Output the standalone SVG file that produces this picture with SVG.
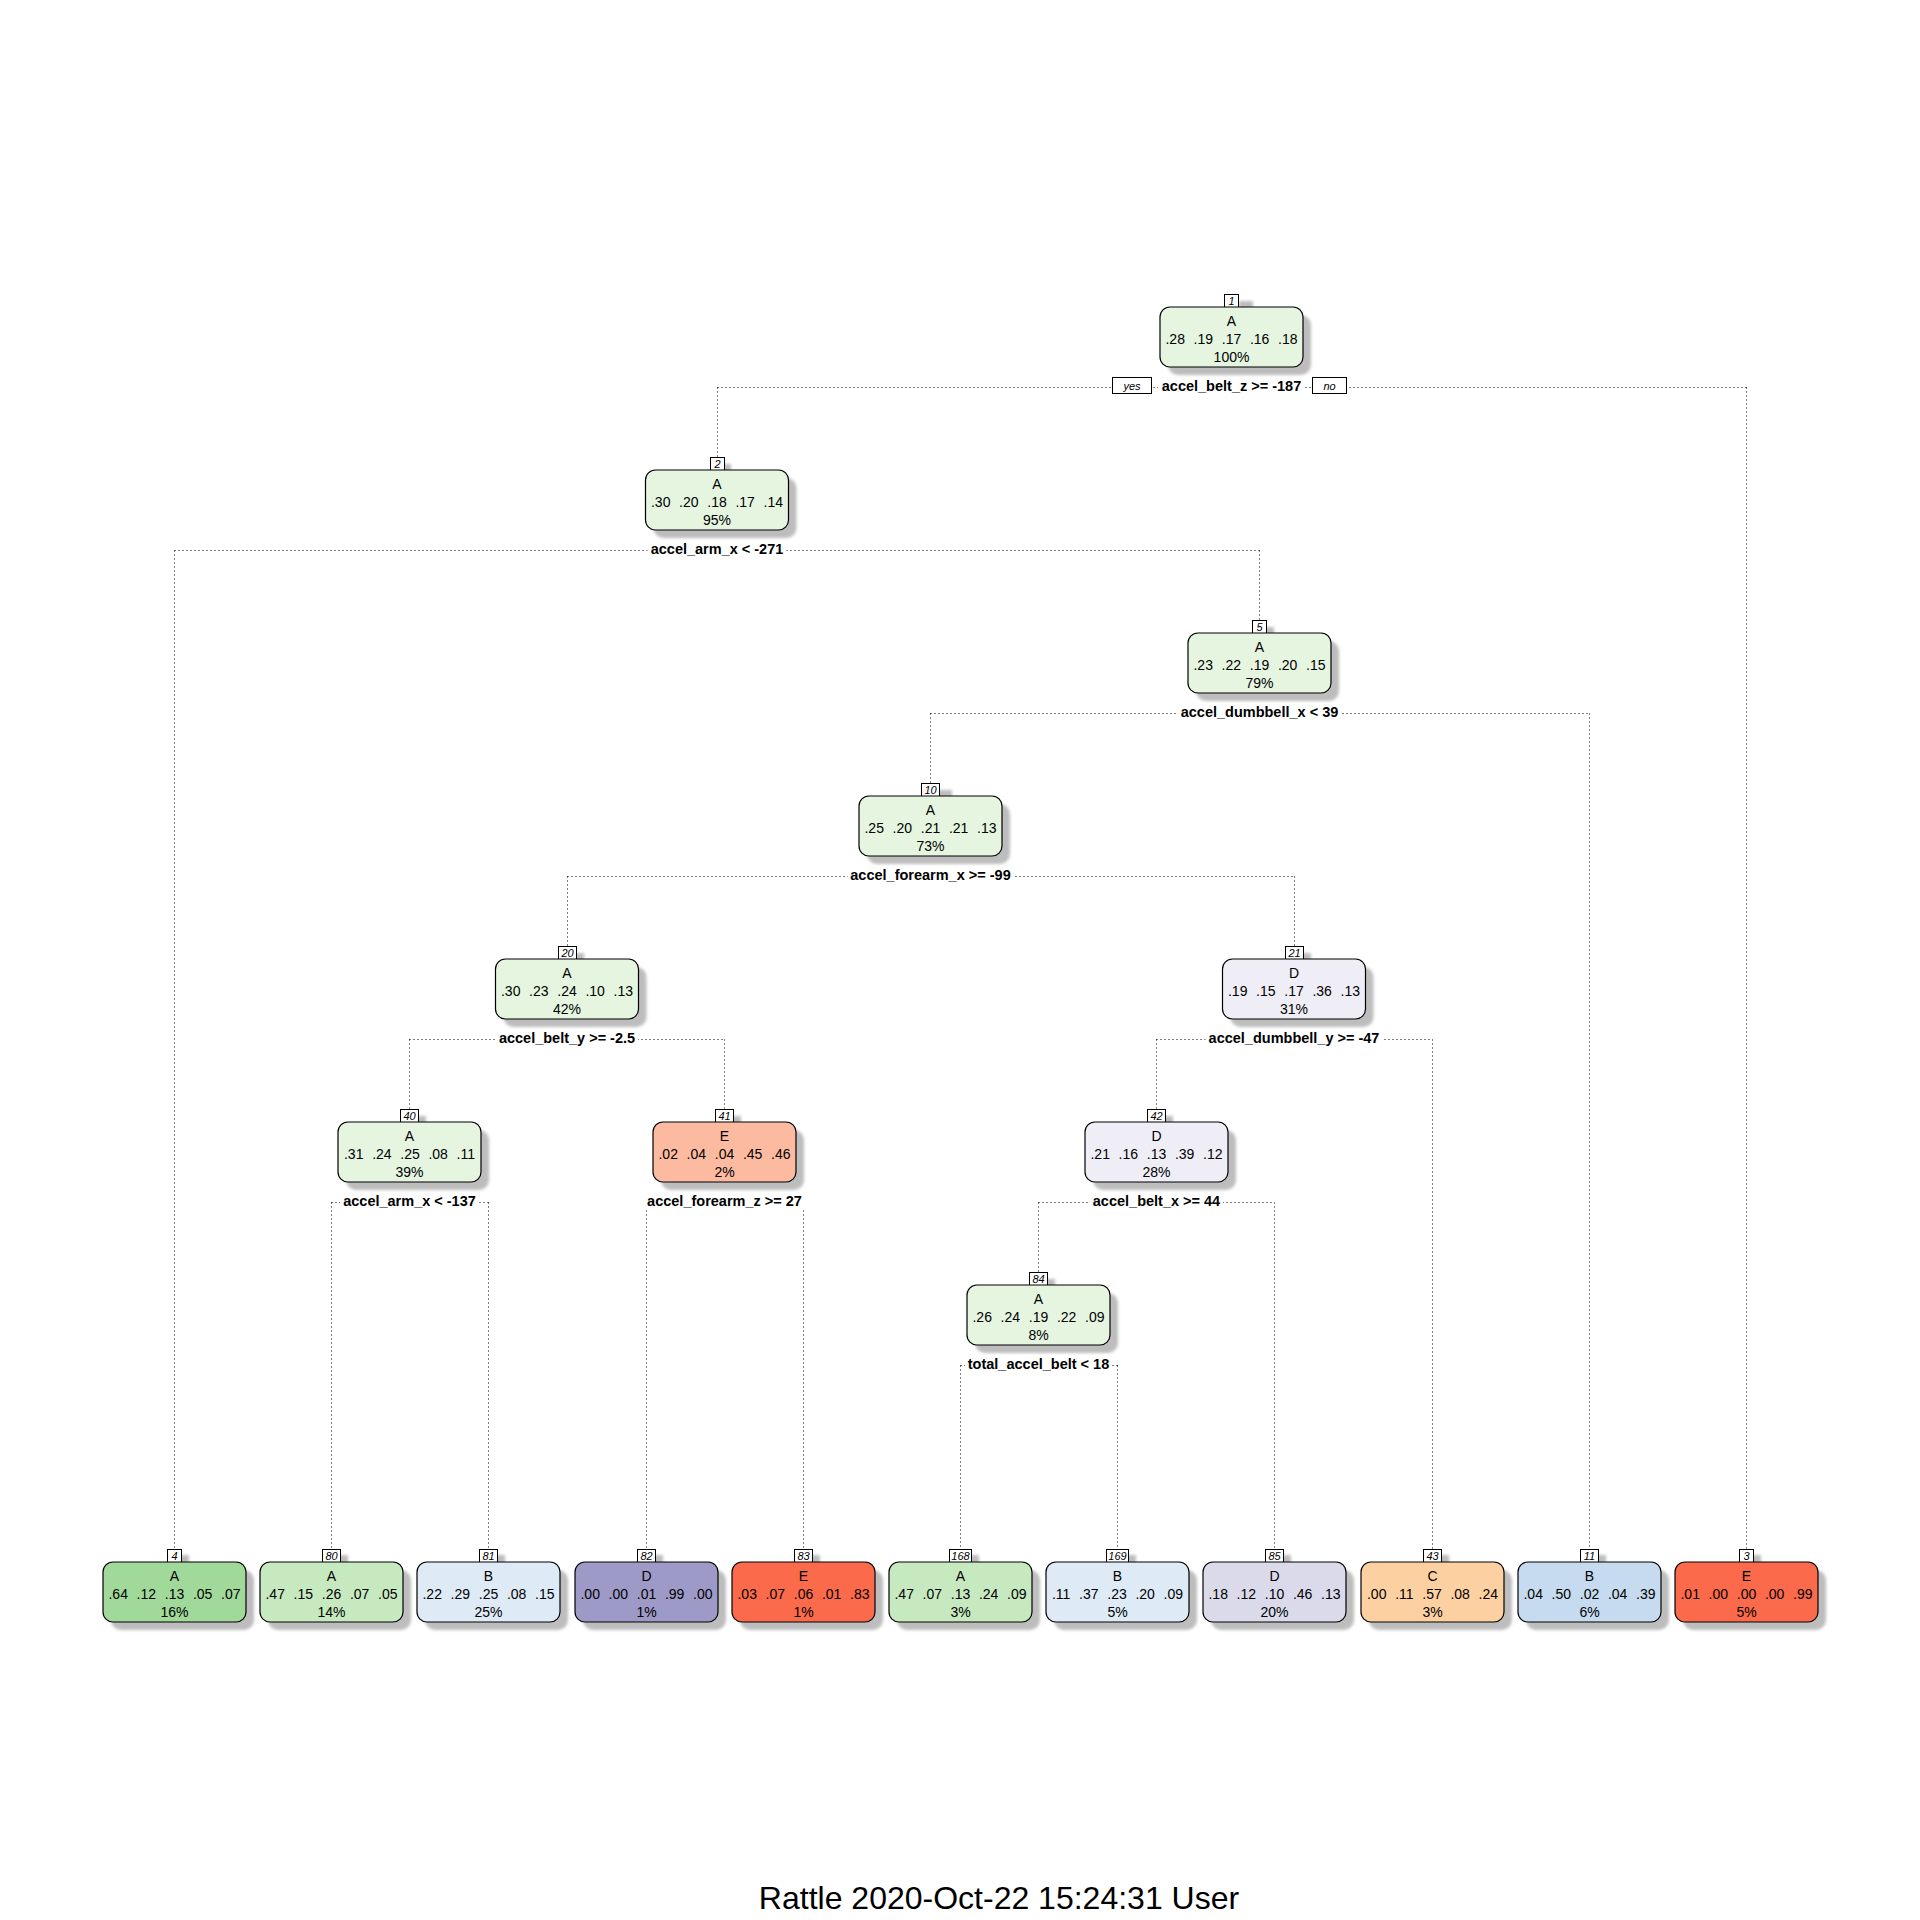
<svg xmlns="http://www.w3.org/2000/svg" width="1920" height="1920" viewBox="0 0 1920 1920">
  <defs>
    <filter id="soft" x="-20%" y="-20%" width="140%" height="140%">
      <feGaussianBlur stdDeviation="1.6"/>
    </filter>
    <style>
      text { font-family: "Liberation Sans", Arial, sans-serif; fill: #000; }
      .shadow { fill: #bdbdbd; filter: url(#soft); }
      .box { stroke: #000; stroke-width: 1.2; }
      .cls { font-size: 14px; text-anchor: middle; }
      .prob { font-size: 14px; text-anchor: middle; word-spacing: 4.8px; }
      .pct { font-size: 14px; text-anchor: middle; }
      .numbox { fill: #fff; stroke: #000; stroke-width: 1; }
      .num { font-size: 11px; font-style: italic; text-anchor: middle; }
      .split { font-size: 14.5px; font-weight: bold; text-anchor: middle; }
      .splitbg { fill: #fff; }
      .yn { font-size: 11px; font-style: italic; text-anchor: middle; }
      .edge { fill: none; stroke: #000; stroke-width: 1; stroke-dasharray: 1 3; }
      .g1 { fill: #e5f5e0; }
      .g2 { fill: #c7e9c0; }
      .g3 { fill: #a1d99b; }
      .b1 { fill: #deebf7; }
      .b2 { fill: #c6dbef; }
      .p1 { fill: #efedf5; }
      .p2 { fill: #dadaeb; }
      .p3 { fill: #9e9ac8; }
      .r1 { fill: #fcbba1; }
      .r3 { fill: #fb6a4a; }
      .o2 { fill: #fdd0a2; }
    </style>
  </defs>

  <rect width="1920" height="1920" fill="#fff"/>

  <!-- dotted split connectors: horizontal bar at the split label, drops to each child's number tag -->
  <g id="connectors" class="edge">
    <path d="M717.5 387.5H1746.5M717.5 387.5V457M1746.5 387.5V1549"/>
    <path d="M174.5 550.5H1259.5M174.5 550.5V1549M1259.5 550.5V620"/>
    <path d="M930.5 713.5H1589.5M930.5 713.5V783M1589.5 713.5V1549"/>
    <path d="M567.5 876.5H1294.5M567.5 876.5V946M1294.5 876.5V946"/>
    <path d="M409.5 1039.5H724.5M409.5 1039.5V1109M724.5 1039.5V1109"/>
    <path d="M1156.5 1039.5H1432.5M1156.5 1039.5V1109M1432.5 1039.5V1549"/>
    <path d="M331.5 1202.5H488.5M331.5 1202.5V1549M488.5 1202.5V1549"/>
    <path d="M646.5 1202.5H803.5M646.5 1202.5V1549M803.5 1202.5V1549"/>
    <path d="M1038.5 1202.5H1274.5M1038.5 1202.5V1272M1274.5 1202.5V1549"/>
    <path d="M960.5 1365.5H1117.5M960.5 1365.5V1549M1117.5 1365.5V1549"/>
  </g>

  <!-- node 1 (root) -->
  <g id="node-1">
    <rect class="shadow" x="1239" y="301" width="14" height="13"/>
    <rect class="numbox" x="1224.5" y="294.5" width="14" height="13"/>
    <text class="num" x="1231.5" y="305">1</text>
    <rect class="shadow" x="1168" y="315" width="143" height="60" rx="10"/>
    <rect class="box g1" x="1160" y="307" width="143" height="60" rx="10"/>
    <text class="cls" x="1231.5" y="326">A</text>
    <text class="prob" x="1231.5" y="344">.28 .19 .17 .16 .18</text>
    <text class="pct" x="1231.5" y="362">100%</text>
    <rect class="splitbg" x="1158" y="377" width="146" height="18"/>
    <text class="split" x="1231.5" y="391">accel_belt_z &gt;= -187</text>
    <rect class="numbox" x="1112.5" y="377.5" width="39" height="16"/>
    <text class="yn" x="1132" y="390">yes</text>
    <rect class="numbox" x="1312.5" y="377.5" width="34" height="16"/>
    <text class="yn" x="1329.5" y="390">no</text>
  </g>

  <!-- node 2 -->
  <g id="node-2">
    <rect class="shadow" x="717" y="464" width="14" height="13"/>
    <rect class="numbox" x="710.5" y="457.5" width="14" height="13"/>
    <text class="num" x="717.5" y="468">2</text>
    <rect class="shadow" x="653.5" y="478" width="143" height="60" rx="10"/>
    <rect class="box g1" x="645.5" y="470" width="143" height="60" rx="10"/>
    <text class="cls" x="717" y="489">A</text>
    <text class="prob" x="717" y="507">.30 .20 .18 .17 .14</text>
    <text class="pct" x="717" y="525">95%</text>
    <rect class="splitbg" x="647.5" y="540" width="139" height="18"/>
    <text class="split" x="717" y="554">accel_arm_x &lt; -271</text>
  </g>

  <!-- node 5 -->
  <g id="node-5">
    <rect class="shadow" x="1260" y="627" width="14" height="13"/>
    <rect class="numbox" x="1252.5" y="620.5" width="14" height="13"/>
    <text class="num" x="1259.5" y="631">5</text>
    <rect class="shadow" x="1196" y="641" width="143" height="60" rx="10"/>
    <rect class="box g1" x="1188" y="633" width="143" height="60" rx="10"/>
    <text class="cls" x="1259.5" y="652">A</text>
    <text class="prob" x="1259.5" y="670">.23 .22 .19 .20 .15</text>
    <text class="pct" x="1259.5" y="688">79%</text>
    <rect class="splitbg" x="1177.5" y="703" width="164" height="18"/>
    <text class="split" x="1259.5" y="717">accel_dumbbell_x &lt; 39</text>
  </g>

  <!-- node 10 -->
  <g id="node-10">
    <rect class="shadow" x="934" y="790" width="18" height="13"/>
    <rect class="numbox" x="921.5" y="783.5" width="18" height="13"/>
    <text class="num" x="930.5" y="794">10</text>
    <rect class="shadow" x="867" y="804" width="143" height="60" rx="10"/>
    <rect class="box g1" x="859" y="796" width="143" height="60" rx="10"/>
    <text class="cls" x="930.5" y="815">A</text>
    <text class="prob" x="930.5" y="833">.25 .20 .21 .21 .13</text>
    <text class="pct" x="930.5" y="851">73%</text>
    <rect class="splitbg" x="847.5" y="866" width="166" height="18"/>
    <text class="split" x="930.5" y="880">accel_forearm_x &gt;= -99</text>
  </g>

  <!-- node 20 -->
  <g id="node-20">
    <rect class="shadow" x="566" y="953" width="18" height="13"/>
    <rect class="numbox" x="558.5" y="946.5" width="18" height="13"/>
    <text class="num" x="567.5" y="957">20</text>
    <rect class="shadow" x="503.5" y="967" width="143" height="60" rx="10"/>
    <rect class="box g1" x="495.5" y="959" width="143" height="60" rx="10"/>
    <text class="cls" x="567" y="978">A</text>
    <text class="prob" x="567" y="996">.30 .23 .24 .10 .13</text>
    <text class="pct" x="567" y="1014">42%</text>
    <rect class="splitbg" x="496" y="1029" width="142" height="18"/>
    <text class="split" x="567" y="1043">accel_belt_y &gt;= -2.5</text>
  </g>

  <!-- node 21 -->
  <g id="node-21">
    <rect class="shadow" x="1293" y="953" width="18" height="13"/>
    <rect class="numbox" x="1285.5" y="946.5" width="18" height="13"/>
    <text class="num" x="1294.5" y="957">21</text>
    <rect class="shadow" x="1230.5" y="967" width="143" height="60" rx="10"/>
    <rect class="box p1" x="1222.5" y="959" width="143" height="60" rx="10"/>
    <text class="cls" x="1294" y="978">D</text>
    <text class="prob" x="1294" y="996">.19 .15 .17 .36 .13</text>
    <text class="pct" x="1294" y="1014">31%</text>
    <rect class="splitbg" x="1205.5" y="1029" width="177" height="18"/>
    <text class="split" x="1294" y="1043">accel_dumbbell_y &gt;= -47</text>
  </g>

  <!-- node 40 -->
  <g id="node-40">
    <rect class="shadow" x="408" y="1116" width="18" height="13"/>
    <rect class="numbox" x="400.5" y="1109.5" width="18" height="13"/>
    <text class="num" x="409.5" y="1120">40</text>
    <rect class="shadow" x="346" y="1130" width="143" height="60" rx="10"/>
    <rect class="box g1" x="338" y="1122" width="143" height="60" rx="10"/>
    <text class="cls" x="409.5" y="1141">A</text>
    <text class="prob" x="409.5" y="1159">.31 .24 .25 .08 .11</text>
    <text class="pct" x="409.5" y="1177">39%</text>
    <rect class="splitbg" x="340" y="1192" width="139" height="18"/>
    <text class="split" x="409.5" y="1206">accel_arm_x &lt; -137</text>
  </g>

  <!-- node 41 -->
  <g id="node-41">
    <rect class="shadow" x="723" y="1116" width="18" height="13"/>
    <rect class="numbox" x="715.5" y="1109.5" width="18" height="13"/>
    <text class="num" x="724.5" y="1120">41</text>
    <rect class="shadow" x="661" y="1130" width="143" height="60" rx="10"/>
    <rect class="box r1" x="653" y="1122" width="143" height="60" rx="10"/>
    <text class="cls" x="724.5" y="1141">E</text>
    <text class="prob" x="724.5" y="1159">.02 .04 .04 .45 .46</text>
    <text class="pct" x="724.5" y="1177">2%</text>
    <rect class="splitbg" x="644" y="1192" width="161" height="18"/>
    <text class="split" x="724.5" y="1206">accel_forearm_z &gt;= 27</text>
  </g>

  <!-- node 42 -->
  <g id="node-42">
    <rect class="shadow" x="1155" y="1116" width="18" height="13"/>
    <rect class="numbox" x="1147.5" y="1109.5" width="18" height="13"/>
    <text class="num" x="1156.5" y="1120">42</text>
    <rect class="shadow" x="1093" y="1130" width="143" height="60" rx="10"/>
    <rect class="box p1" x="1085" y="1122" width="143" height="60" rx="10"/>
    <text class="cls" x="1156.5" y="1141">D</text>
    <text class="prob" x="1156.5" y="1159">.21 .16 .13 .39 .12</text>
    <text class="pct" x="1156.5" y="1177">28%</text>
    <rect class="splitbg" x="1090" y="1192" width="133" height="18"/>
    <text class="split" x="1156.5" y="1206">accel_belt_x &gt;= 44</text>
  </g>

  <!-- node 84 -->
  <g id="node-84">
    <rect class="shadow" x="1037" y="1279" width="18" height="13"/>
    <rect class="numbox" x="1029.5" y="1272.5" width="18" height="13"/>
    <text class="num" x="1038.5" y="1283">84</text>
    <rect class="shadow" x="975" y="1293" width="143" height="60" rx="10"/>
    <rect class="box g1" x="967" y="1285" width="143" height="60" rx="10"/>
    <text class="cls" x="1038.5" y="1304">A</text>
    <text class="prob" x="1038.5" y="1322">.26 .24 .19 .22 .09</text>
    <text class="pct" x="1038.5" y="1340">8%</text>
    <rect class="splitbg" x="965" y="1355" width="147" height="18"/>
    <text class="split" x="1038.5" y="1369">total_accel_belt &lt; 18</text>
  </g>

  <!-- leaves -->
  <g id="node-4">
    <rect class="shadow" x="175" y="1555" width="14" height="13"/>
    <rect class="numbox" x="167.5" y="1549.5" width="14" height="13"/>
    <text class="num" x="174.5" y="1560">4</text>
    <rect class="shadow" x="111" y="1570" width="143" height="60" rx="10"/>
    <rect class="box g3" x="103" y="1562" width="143" height="60" rx="10"/>
    <text class="cls" x="174.5" y="1581">A</text>
    <text class="prob" x="174.5" y="1599">.64 .12 .13 .05 .07</text>
    <text class="pct" x="174.5" y="1617">16%</text>
  </g>

  <g id="node-80">
    <rect class="shadow" x="330" y="1555" width="18" height="13"/>
    <rect class="numbox" x="322.5" y="1549.5" width="18" height="13"/>
    <text class="num" x="331.5" y="1560">80</text>
    <rect class="shadow" x="268" y="1570" width="143" height="60" rx="10"/>
    <rect class="box g2" x="260" y="1562" width="143" height="60" rx="10"/>
    <text class="cls" x="331.5" y="1581">A</text>
    <text class="prob" x="331.5" y="1599">.47 .15 .26 .07 .05</text>
    <text class="pct" x="331.5" y="1617">14%</text>
  </g>

  <g id="node-81">
    <rect class="shadow" x="487" y="1555" width="18" height="13"/>
    <rect class="numbox" x="479.5" y="1549.5" width="18" height="13"/>
    <text class="num" x="488.5" y="1560">81</text>
    <rect class="shadow" x="425" y="1570" width="143" height="60" rx="10"/>
    <rect class="box b1" x="417" y="1562" width="143" height="60" rx="10"/>
    <text class="cls" x="488.5" y="1581">B</text>
    <text class="prob" x="488.5" y="1599">.22 .29 .25 .08 .15</text>
    <text class="pct" x="488.5" y="1617">25%</text>
  </g>

  <g id="node-82">
    <rect class="shadow" x="645" y="1555" width="18" height="13"/>
    <rect class="numbox" x="637.5" y="1549.5" width="18" height="13"/>
    <text class="num" x="646.5" y="1560">82</text>
    <rect class="shadow" x="583" y="1570" width="143" height="60" rx="10"/>
    <rect class="box p3" x="575" y="1562" width="143" height="60" rx="10"/>
    <text class="cls" x="646.5" y="1581">D</text>
    <text class="prob" x="646.5" y="1599">.00 .00 .01 .99 .00</text>
    <text class="pct" x="646.5" y="1617">1%</text>
  </g>

  <g id="node-83">
    <rect class="shadow" x="802" y="1555" width="18" height="13"/>
    <rect class="numbox" x="794.5" y="1549.5" width="18" height="13"/>
    <text class="num" x="803.5" y="1560">83</text>
    <rect class="shadow" x="740" y="1570" width="143" height="60" rx="10"/>
    <rect class="box r3" x="732" y="1562" width="143" height="60" rx="10"/>
    <text class="cls" x="803.5" y="1581">E</text>
    <text class="prob" x="803.5" y="1599">.03 .07 .06 .01 .83</text>
    <text class="pct" x="803.5" y="1617">1%</text>
  </g>

  <g id="node-168">
    <rect class="shadow" x="957" y="1555" width="22" height="13"/>
    <rect class="numbox" x="949.5" y="1549.5" width="22" height="13"/>
    <text class="num" x="960.5" y="1560">168</text>
    <rect class="shadow" x="897" y="1570" width="143" height="60" rx="10"/>
    <rect class="box g2" x="889" y="1562" width="143" height="60" rx="10"/>
    <text class="cls" x="960.5" y="1581">A</text>
    <text class="prob" x="960.5" y="1599">.47 .07 .13 .24 .09</text>
    <text class="pct" x="960.5" y="1617">3%</text>
  </g>

  <g id="node-169">
    <rect class="shadow" x="1114" y="1555" width="22" height="13"/>
    <rect class="numbox" x="1106.5" y="1549.5" width="22" height="13"/>
    <text class="num" x="1117.5" y="1560">169</text>
    <rect class="shadow" x="1054" y="1570" width="143" height="60" rx="10"/>
    <rect class="box b1" x="1046" y="1562" width="143" height="60" rx="10"/>
    <text class="cls" x="1117.5" y="1581">B</text>
    <text class="prob" x="1117.5" y="1599">.11 .37 .23 .20 .09</text>
    <text class="pct" x="1117.5" y="1617">5%</text>
  </g>

  <g id="node-85">
    <rect class="shadow" x="1273" y="1555" width="18" height="13"/>
    <rect class="numbox" x="1265.5" y="1549.5" width="18" height="13"/>
    <text class="num" x="1274.5" y="1560">85</text>
    <rect class="shadow" x="1211" y="1570" width="143" height="60" rx="10"/>
    <rect class="box p2" x="1203" y="1562" width="143" height="60" rx="10"/>
    <text class="cls" x="1274.5" y="1581">D</text>
    <text class="prob" x="1274.5" y="1599">.18 .12 .10 .46 .13</text>
    <text class="pct" x="1274.5" y="1617">20%</text>
  </g>

  <g id="node-43">
    <rect class="shadow" x="1431" y="1555" width="18" height="13"/>
    <rect class="numbox" x="1423.5" y="1549.5" width="18" height="13"/>
    <text class="num" x="1432.5" y="1560">43</text>
    <rect class="shadow" x="1369" y="1570" width="143" height="60" rx="10"/>
    <rect class="box o2" x="1361" y="1562" width="143" height="60" rx="10"/>
    <text class="cls" x="1432.5" y="1581">C</text>
    <text class="prob" x="1432.5" y="1599">.00 .11 .57 .08 .24</text>
    <text class="pct" x="1432.5" y="1617">3%</text>
  </g>

  <g id="node-11">
    <rect class="shadow" x="1588" y="1555" width="18" height="13"/>
    <rect class="numbox" x="1580.5" y="1549.5" width="18" height="13"/>
    <text class="num" x="1589.5" y="1560">11</text>
    <rect class="shadow" x="1526" y="1570" width="143" height="60" rx="10"/>
    <rect class="box b2" x="1518" y="1562" width="143" height="60" rx="10"/>
    <text class="cls" x="1589.5" y="1581">B</text>
    <text class="prob" x="1589.5" y="1599">.04 .50 .02 .04 .39</text>
    <text class="pct" x="1589.5" y="1617">6%</text>
  </g>

  <g id="node-3">
    <rect class="shadow" x="1747" y="1555" width="14" height="13"/>
    <rect class="numbox" x="1739.5" y="1549.5" width="14" height="13"/>
    <text class="num" x="1746.5" y="1560">3</text>
    <rect class="shadow" x="1683" y="1570" width="143" height="60" rx="10"/>
    <rect class="box r3" x="1675" y="1562" width="143" height="60" rx="10"/>
    <text class="cls" x="1746.5" y="1581">E</text>
    <text class="prob" x="1746.5" y="1599">.01 .00 .00 .00 .99</text>
    <text class="pct" x="1746.5" y="1617">5%</text>
  </g>

  <!-- caption -->
  <text x="999" y="1909" font-size="32" text-anchor="middle">Rattle 2020-Oct-22 15:24:31 User</text>
</svg>
